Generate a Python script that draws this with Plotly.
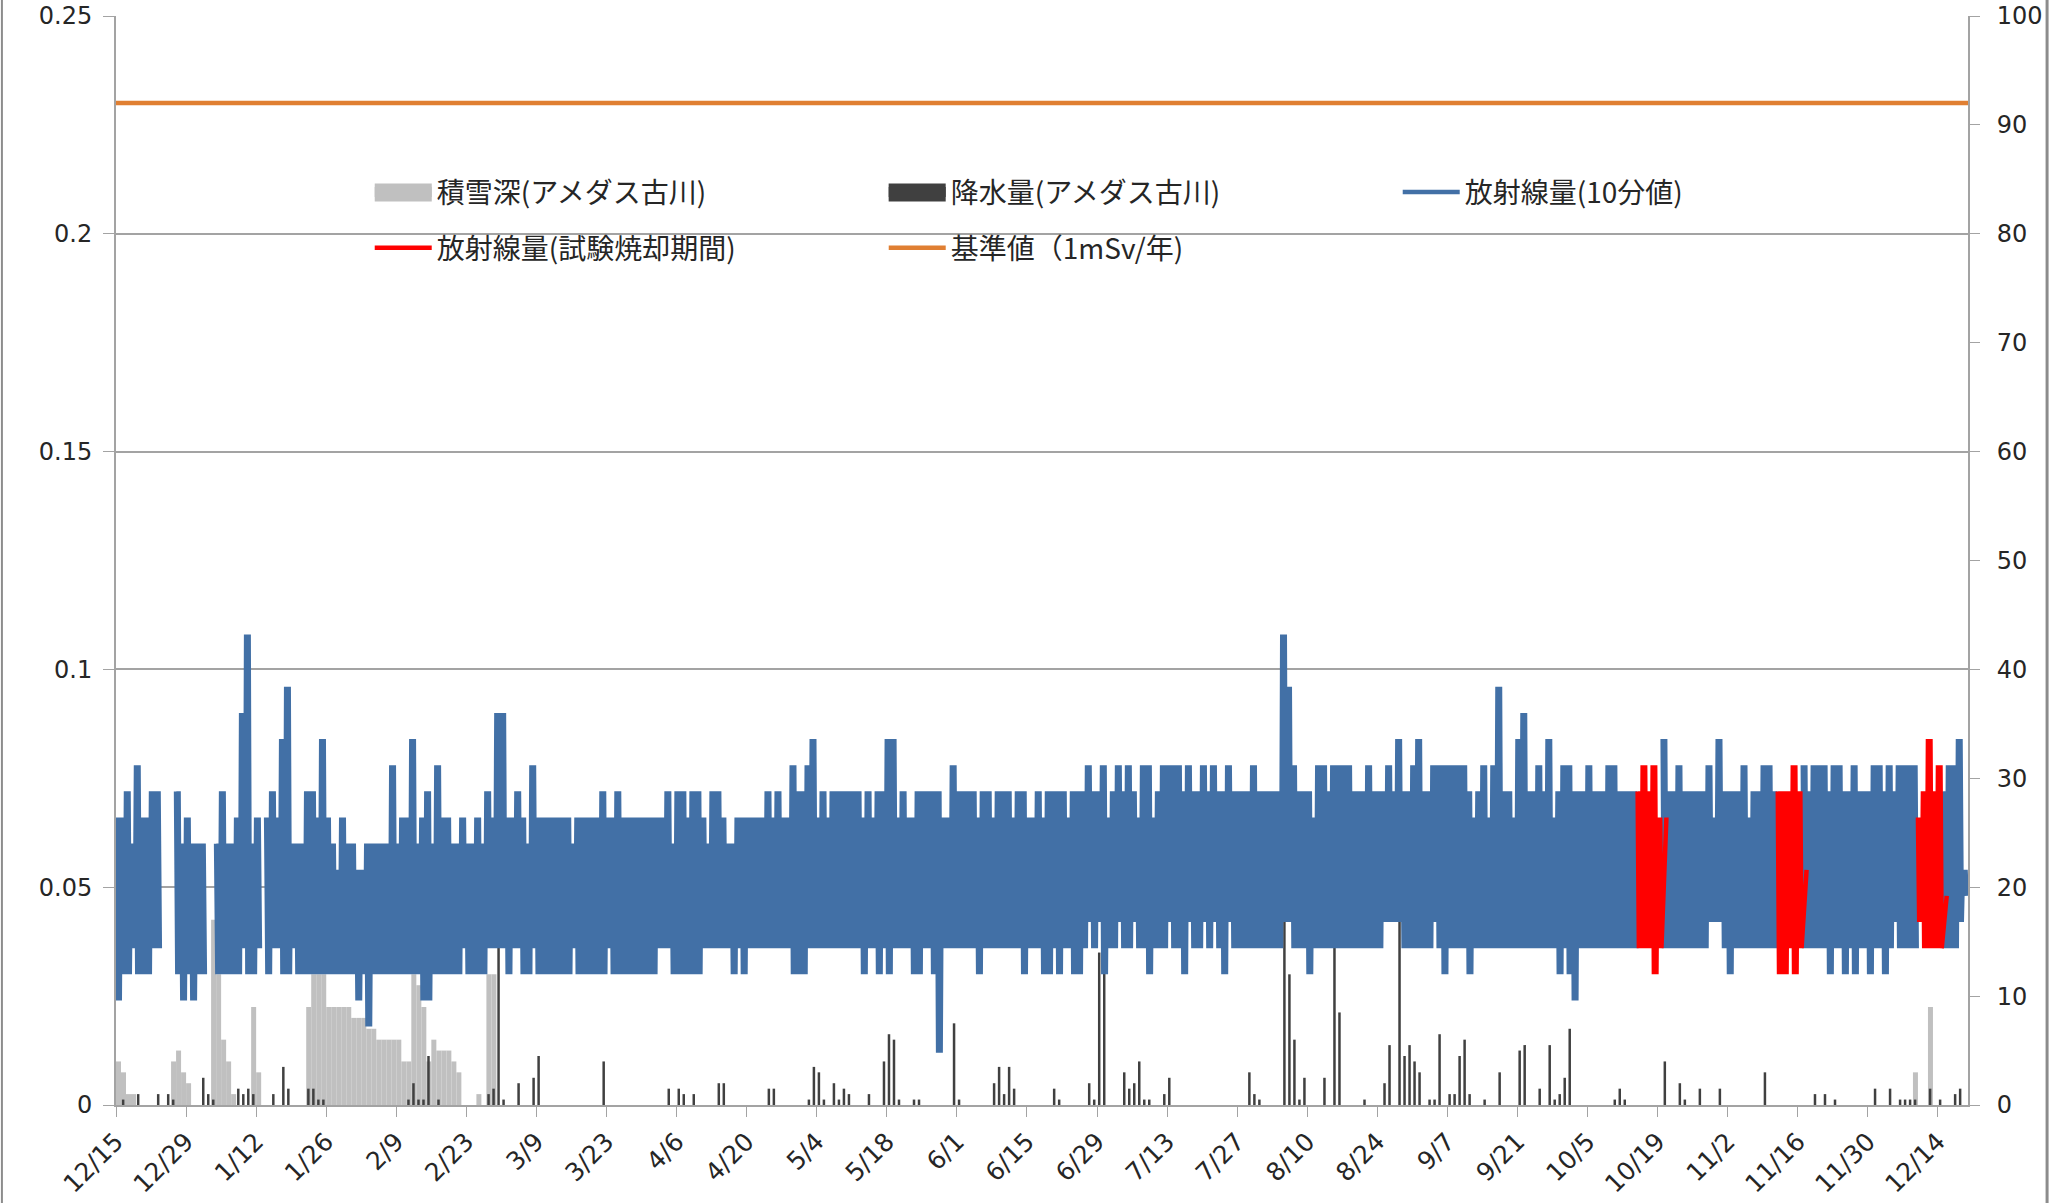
import pandas as pd
import plotly.graph_objects as go

# ---------------- data ----------------
first_day = "2016-12-15"
n_days = 370
days = pd.date_range(first_day, periods=n_days, freq="D")

# daily highest / lowest 10-minute dose rate (uSv/h); None = no data
rad_max = [
    0.066, 0.066, 0.072, 0.060, 0.078, 0.066, 0.066, 0.072, 0.072, None,
    None, None, 0.072, 0.060, 0.066, 0.060, 0.060, 0.060, None, None,
    0.060, 0.072, 0.060, 0.060, 0.066, 0.090, 0.108, 0.060, 0.066, None,
    0.066, 0.072, 0.066, 0.084, 0.096, 0.060, 0.060, 0.060, 0.072, 0.072,
    0.066, 0.084, 0.066, 0.060, 0.054, 0.066, 0.060, 0.060, 0.054, 0.054,
    0.060, 0.060, 0.060, 0.060, 0.060, 0.078, 0.060, 0.066, 0.066, 0.084,
    0.060, 0.066, 0.072, 0.060, 0.078, 0.066, 0.066, 0.060, 0.060, 0.066,
    0.060, 0.060, 0.066, 0.060, 0.072, 0.066, 0.090, 0.090, 0.066, 0.066,
    0.072, 0.066, 0.060, 0.078, 0.066, 0.066, 0.066, 0.066, 0.066, 0.066,
    0.066, 0.060, 0.066, 0.066, 0.066, 0.066, 0.066, 0.072, 0.066, 0.066,
    0.072, 0.066, 0.066, 0.066, 0.066, 0.066, 0.066, 0.066, 0.066, 0.066,
    0.072, 0.060, 0.072, 0.072, 0.066, 0.072, 0.072, 0.066, 0.060, 0.072,
    0.072, 0.066, 0.060, 0.060, 0.066, 0.066, 0.066, 0.066, 0.066, 0.066,
    0.072, 0.066, 0.072, 0.066, 0.066, 0.078, 0.072, 0.072, 0.078, 0.084,
    0.066, 0.072, 0.066, 0.072, 0.072, 0.072, 0.072, 0.072, 0.072, 0.066,
    0.072, 0.066, 0.072, 0.072, 0.084, 0.084, 0.066, 0.072, 0.066, 0.066,
    0.072, 0.072, 0.072, 0.072, 0.072, 0.066, 0.066, 0.078, 0.072, 0.072,
    0.072, 0.072, 0.066, 0.072, 0.072, 0.066, 0.072, 0.072, 0.072, 0.066,
    0.072, 0.072, 0.066, 0.066, 0.072, 0.066, 0.072, 0.072, 0.072, 0.072,
    0.066, 0.072, 0.072, 0.072, 0.078, 0.072, 0.072, 0.078, 0.066, 0.072,
    0.078, 0.072, 0.078, 0.072, 0.066, 0.078, 0.078, 0.066, 0.072, 0.078,
    0.078, 0.078, 0.078, 0.072, 0.078, 0.072, 0.072, 0.078, 0.072, 0.078,
    0.072, 0.072, 0.078, 0.072, 0.072, 0.072, 0.072, 0.078, 0.072, 0.072,
    0.072, 0.072, 0.072, 0.108, 0.096, 0.078, 0.072, 0.072, 0.072, 0.066,
    0.078, 0.078, 0.072, 0.078, 0.078, 0.078, 0.078, 0.072, 0.072, 0.072,
    0.078, 0.072, 0.072, 0.072, 0.078, 0.072, 0.084, 0.072, 0.072, 0.078,
    0.084, 0.072, 0.072, 0.078, 0.078, 0.078, 0.078, 0.078, 0.078, 0.078,
    0.072, 0.066, 0.072, 0.078, 0.066, 0.078, 0.096, 0.072, 0.072, 0.066,
    0.084, 0.090, 0.072, 0.072, 0.078, 0.072, 0.084, 0.066, 0.072, 0.078,
    0.078, 0.072, 0.072, 0.072, 0.078, 0.072, 0.072, 0.072, 0.078, 0.078,
    0.072, 0.072, 0.072, 0.072, 0.072, 0.078, 0.072, 0.078, 0.066, 0.084,
    0.072, 0.072, 0.078, 0.072, 0.072, 0.072, 0.072, 0.072, 0.078, 0.066,
    0.084, 0.072, 0.072, 0.072, 0.072, 0.078, 0.066, 0.072, 0.072, 0.078,
    0.078, 0.072, 0.072, 0.072, 0.072, 0.078, 0.072, 0.078, 0.072, 0.078,
    0.078, 0.078, 0.072, 0.078, 0.078, 0.072, 0.072, 0.078, 0.072, 0.072,
    0.072, 0.078, 0.078, 0.072, 0.078, 0.072, 0.078, 0.078, 0.078, 0.078,
    0.066, 0.072, 0.084, 0.072, 0.078, 0.072, 0.078, 0.078, 0.084, 0.054,
]
rad_min = [
    0.024, 0.030, 0.030, 0.036, 0.030, 0.030, 0.030, 0.036, 0.036, None,
    None, None, 0.030, 0.024, 0.030, 0.024, 0.030, 0.030, None, None,
    0.030, 0.030, 0.030, 0.030, 0.030, 0.036, 0.030, 0.030, 0.036, None,
    0.030, 0.036, 0.036, 0.030, 0.030, 0.036, 0.030, 0.030, 0.030, 0.030,
    0.030, 0.030, 0.030, 0.030, 0.030, 0.030, 0.030, 0.030, 0.024, 0.030,
    0.018, 0.030, 0.030, 0.030, 0.030, 0.030, 0.030, 0.030, 0.030, 0.030,
    0.030, 0.024, 0.024, 0.030, 0.030, 0.030, 0.030, 0.030, 0.030, 0.036,
    0.030, 0.030, 0.030, 0.030, 0.036, 0.036, 0.036, 0.036, 0.030, 0.036,
    0.036, 0.030, 0.030, 0.036, 0.030, 0.030, 0.030, 0.030, 0.030, 0.030,
    0.030, 0.036, 0.030, 0.030, 0.030, 0.030, 0.030, 0.030, 0.036, 0.030,
    0.030, 0.030, 0.030, 0.030, 0.030, 0.030, 0.030, 0.030, 0.036, 0.036,
    0.036, 0.030, 0.030, 0.030, 0.030, 0.030, 0.030, 0.036, 0.036, 0.036,
    0.036, 0.036, 0.036, 0.030, 0.036, 0.030, 0.036, 0.036, 0.036, 0.036,
    0.036, 0.036, 0.036, 0.036, 0.036, 0.030, 0.030, 0.030, 0.036, 0.036,
    0.036, 0.036, 0.036, 0.036, 0.036, 0.036, 0.036, 0.036, 0.036, 0.030,
    0.036, 0.036, 0.030, 0.036, 0.030, 0.036, 0.036, 0.036, 0.036, 0.030,
    0.030, 0.036, 0.036, 0.030, 0.012, 0.036, 0.036, 0.036, 0.036, 0.036,
    0.036, 0.036, 0.030, 0.036, 0.036, 0.036, 0.036, 0.036, 0.036, 0.036,
    0.036, 0.030, 0.036, 0.036, 0.036, 0.030, 0.030, 0.036, 0.030, 0.036,
    0.036, 0.030, 0.030, 0.036, 0.042, 0.036, 0.042, 0.030, 0.036, 0.036,
    0.042, 0.036, 0.036, 0.042, 0.036, 0.036, 0.030, 0.036, 0.036, 0.036,
    0.042, 0.036, 0.036, 0.030, 0.042, 0.036, 0.036, 0.042, 0.036, 0.042,
    0.036, 0.030, 0.042, 0.036, 0.036, 0.036, 0.036, 0.036, 0.036, 0.036,
    0.036, 0.036, 0.036, 0.042, 0.042, 0.036, 0.036, 0.036, 0.030, 0.036,
    0.036, 0.036, 0.036, 0.036, 0.036, 0.036, 0.036, 0.036, 0.036, 0.036,
    0.036, 0.036, 0.036, 0.042, 0.042, 0.042, 0.042, 0.036, 0.036, 0.036,
    0.036, 0.036, 0.036, 0.042, 0.036, 0.030, 0.036, 0.036, 0.036, 0.036,
    0.030, 0.036, 0.036, 0.036, 0.036, 0.036, 0.036, 0.036, 0.036, 0.036,
    0.036, 0.036, 0.036, 0.036, 0.036, 0.036, 0.036, 0.036, 0.030, 0.036,
    0.030, 0.024, 0.036, 0.036, 0.036, 0.036, 0.036, 0.036, 0.036, 0.036,
    0.036, 0.036, 0.036, 0.036, 0.036, 0.036, 0.036, 0.030, 0.036, 0.036,
    0.036, 0.036, 0.036, 0.036, 0.036, 0.036, 0.036, 0.036, 0.042, 0.042,
    0.042, 0.036, 0.030, 0.036, 0.036, 0.036, 0.036, 0.036, 0.036, 0.036,
    0.036, 0.036, 0.030, 0.030, 0.036, 0.030, 0.036, 0.036, 0.036, 0.036,
    0.036, 0.036, 0.030, 0.036, 0.036, 0.030, 0.036, 0.030, 0.036, 0.036,
    0.030, 0.036, 0.036, 0.030, 0.036, 0.042, 0.036, 0.036, 0.036, 0.036,
    0.042, 0.036, 0.036, 0.036, 0.036, 0.036, 0.036, 0.036, 0.042, 0.048,
]

# test incineration periods and the last reading recorded in each
burn_start = ["2017-10-15", "2017-11-12", "2017-12-10"]
burn_end = ["2017-10-19", "2017-11-16", "2017-12-14"]
burn_last = [0.066, 0.054, 0.048]

# precipitation, AMeDAS Furukawa (mm/day)
precip_dates = [
    "2016-12-16", "2016-12-19", "2016-12-23", "2016-12-25", "2016-12-26",
    "2017-01-01", "2017-01-02", "2017-01-03", "2017-01-08", "2017-01-09",
    "2017-01-10", "2017-01-11", "2017-01-15", "2017-01-17", "2017-01-18",
    "2017-01-22", "2017-01-23", "2017-01-24", "2017-01-25", "2017-02-11",
    "2017-02-12", "2017-02-13", "2017-02-14", "2017-02-15", "2017-02-17",
    "2017-02-27", "2017-02-28", "2017-03-01", "2017-03-02", "2017-03-05",
    "2017-03-08", "2017-03-09", "2017-03-22", "2017-04-04", "2017-04-06",
    "2017-04-07", "2017-04-09", "2017-04-14", "2017-04-15", "2017-04-24",
    "2017-04-25", "2017-05-02", "2017-05-03", "2017-05-04", "2017-05-05",
    "2017-05-07", "2017-05-08", "2017-05-09", "2017-05-10", "2017-05-14",
    "2017-05-17", "2017-05-18", "2017-05-19", "2017-05-20", "2017-05-23",
    "2017-05-24", "2017-05-31", "2017-06-01", "2017-06-08", "2017-06-09",
    "2017-06-10", "2017-06-11", "2017-06-12", "2017-06-20", "2017-06-21",
    "2017-06-27", "2017-06-28", "2017-06-29", "2017-06-30", "2017-07-04",
    "2017-07-05", "2017-07-06", "2017-07-07", "2017-07-08", "2017-07-09",
    "2017-07-12", "2017-07-13", "2017-07-29", "2017-07-30", "2017-07-31",
    "2017-08-05", "2017-08-06", "2017-08-07", "2017-08-08", "2017-08-09",
    "2017-08-13", "2017-08-15", "2017-08-16", "2017-08-21", "2017-08-25",
    "2017-08-26", "2017-08-28", "2017-08-29", "2017-08-30", "2017-08-31",
    "2017-09-01", "2017-09-03", "2017-09-04", "2017-09-05", "2017-09-07",
    "2017-09-08", "2017-09-09", "2017-09-10", "2017-09-11", "2017-09-14",
    "2017-09-17", "2017-09-21", "2017-09-22", "2017-09-25", "2017-09-27",
    "2017-09-28", "2017-09-29", "2017-09-30", "2017-10-01", "2017-10-10",
    "2017-10-11", "2017-10-12", "2017-10-20", "2017-10-23", "2017-10-24",
    "2017-10-27", "2017-10-31", "2017-11-09", "2017-11-19", "2017-11-21",
    "2017-11-23", "2017-12-01", "2017-12-04", "2017-12-06", "2017-12-07",
    "2017-12-08", "2017-12-09", "2017-12-12", "2017-12-14", "2017-12-17",
    "2017-12-18",
]
precip_mm = [
    0.5, 1, 1, 1, 0.5,
    2.5, 1, 0.5, 1.5, 1,
    1.5, 1, 1, 3.5, 1.5,
    1.5, 1.5, 0.5, 0.5, 0.5,
    2, 0.5, 0.5, 4.5, 0.5,
    1, 1.5, 20, 0.5, 2,
    2.5, 4.5, 4, 1.5, 1.5,
    1, 1, 2, 2, 1.5,
    1.5, 0.5, 3.5, 3, 0.5,
    2, 0.5, 1.5, 1, 1,
    4, 6.5, 6, 0.5, 0.5,
    0.5, 7.5, 0.5, 2, 3.5,
    1, 3.5, 1.5, 1.5, 0.5,
    2, 0.5, 14, 13, 3,
    1.5, 2, 4, 0.5, 0.5,
    1, 2.5, 3, 1, 0.5,
    25, 12, 6, 0.5, 2.5,
    2.5, 18, 8.5, 0.5, 2,
    5.5, 20, 4.5, 5.5, 4,
    3, 0.5, 0.5, 6.5, 1,
    1, 4.5, 6, 1, 0.5,
    3, 5, 5.5, 1.5, 5.5,
    0.5, 1, 2.5, 7, 0.5,
    1.5, 0.5, 4, 2, 0.5,
    1.5, 1.5, 3, 1, 1,
    0.5, 1.5, 1.5, 0.5, 0.5,
    0.5, 0.5, 1.5, 0.5, 1,
    1.5,
]

# snow depth, AMeDAS Furukawa (cm)
snow_dates = [
    "2016-12-15", "2016-12-16", "2016-12-17", "2016-12-18", "2016-12-26",
    "2016-12-27", "2016-12-28", "2016-12-29", "2017-01-03", "2017-01-04",
    "2017-01-05", "2017-01-06", "2017-01-07", "2017-01-11", "2017-01-12",
    "2017-01-22", "2017-01-23", "2017-01-24", "2017-01-25", "2017-01-26",
    "2017-01-27", "2017-01-28", "2017-01-29", "2017-01-30", "2017-01-31",
    "2017-02-01", "2017-02-02", "2017-02-03", "2017-02-04", "2017-02-05",
    "2017-02-06", "2017-02-07", "2017-02-08", "2017-02-09", "2017-02-10",
    "2017-02-11", "2017-02-12", "2017-02-13", "2017-02-14", "2017-02-15",
    "2017-02-16", "2017-02-17", "2017-02-18", "2017-02-19", "2017-02-20",
    "2017-02-21", "2017-02-25", "2017-02-27", "2017-02-28", "2017-12-09",
    "2017-12-12",
]
snow_cm = [
    4, 3, 1, 1, 4,
    5, 3, 2, 17, 12,
    6, 4, 1, 9, 3,
    9, 12, 12, 12, 9,
    9, 9, 9, 9, 8,
    8, 8, 7, 7, 6,
    6, 6, 6, 6, 4,
    4, 12, 11, 9, 4,
    6, 5, 5, 5, 4,
    3, 1, 12, 12, 3,
    9,
]

standard_value = 0.23          # 基準値 (1mSv/年) in uSv/h
x_start, x_end = "2016-12-15", "2017-12-20"

# ---------------- build the 10-minute style trace ----------------
six_h = pd.Timedelta(hours=6)
b_start = pd.to_datetime(burn_start)
b_end = pd.to_datetime(burn_end)


def burn_index(d):
    for i, (s, e) in enumerate(zip(b_start, b_end)):
        if s <= d <= e:
            return i
    return None


bx, by, rx, ry = [], [], [], []
prev = "none"
last_bi = 0
for d, hi, lo in zip(days, rad_max, rad_min):
    if hi is None:
        bx.append(d)
        by.append(None)
        continue
    bi = burn_index(d)
    red = bi is not None
    if prev == "red" and not red:
        rx.append(d + 3 * six_h)
        ry.append(burn_last[last_bi])
        rx.append(d)
        ry.append(None)
    if prev == "blue" and red:
        bx.append(d)
        by.append(None)
    tx, ty = (rx, ry) if red else (bx, by)
    for k, v in enumerate((hi, lo, hi, lo)):
        tx.append(d + k * six_h)
        ty.append(v)
    prev = "red" if red else "blue"
    if red:
        last_bi = bi

snow_color = "#c0c0c0"
rain_color = "#404040"

fig = go.Figure()

fig.add_trace(go.Bar(
    x=snow_dates, y=snow_cm, yaxis="y",
    width=86400000, offset=0,
    marker=dict(color=snow_color, line=dict(width=0)),
    name="積雪深(アメダス古川)", showlegend=False,
))
fig.add_trace(go.Bar(
    x=precip_dates, y=precip_mm, yaxis="y",
    width=86400000 * 0.5, offset=86400000 * 0.18,
    marker=dict(color=rain_color, line=dict(width=0)),
    name="降水量(アメダス古川)", showlegend=False,
))

# legend entries for the two bar series
fig.add_trace(go.Scatter(
    x=[None], y=[None], yaxis="y2", mode="lines",
    line=dict(color=snow_color, width=10),
    name="積雪深(アメダス古川)", legend="legend",
))
fig.add_trace(go.Scatter(
    x=[None], y=[None], yaxis="y2", mode="lines",
    line=dict(color=rain_color, width=10),
    name="降水量(アメダス古川)", legend="legend",
))

fig.add_trace(go.Scatter(
    x=bx, y=by, yaxis="y2", mode="lines",
    line=dict(color="#4270a6", width=4.5),
    name="放射線量(10分値)", legend="legend", connectgaps=False,
))
fig.add_trace(go.Scatter(
    x=rx, y=ry, yaxis="y2", mode="lines",
    line=dict(color="#ff0000", width=4.5),
    name="放射線量(試験焼却期間)", legend="legend2", connectgaps=False,
))
fig.add_trace(go.Scatter(
    x=[x_start, x_end], y=[standard_value, standard_value], yaxis="y2",
    mode="lines", line=dict(color="#e07f32", width=4.5),
    name="基準値（1mSv/年)", legend="legend2",
))

grid_c = "#a3a3a3"
tick_font = dict(family="DejaVu Sans", size=24, color="#262626")
legend_font = dict(family="Noto Sans CJK JP", size=28, color="#262626")

# rectangular swatches for the column series (legend key boxes)
swatch_boxes = [
    dict(type="rect", xref="paper", yref="paper",
         x0=0.1397, x1=0.1705, y0=0.8297, y1=0.8463,
         fillcolor=snow_color, line=dict(width=0), layer="above"),
    dict(type="rect", xref="paper", yref="paper",
         x0=0.4172, x1=0.4480, y0=0.8297, y1=0.8463,
         fillcolor=rain_color, line=dict(width=0), layer="above"),
]

fig.update_layout(
    width=2061, height=1203,
    margin=dict(l=116, r=93, t=16, b=98, autoexpand=False),
    paper_bgcolor="white", plot_bgcolor="white",
    barmode="overlay",
    font=tick_font,
    xaxis=dict(
        type="date", range=[x_start, x_end],
        tick0="2016-12-15", dtick=14 * 86400000, tickformat="%-m/%-d",
        tickangle=-45, ticks="outside", ticklen=10, tickcolor=grid_c,
        showline=True, linecolor=grid_c, linewidth=2, showgrid=False,
        tickfont=dict(family="DejaVu Sans", size=25, color="#262626"),
        automargin=False,
    ),
    yaxis=dict(
        range=[0, 100], dtick=10, side="right",
        ticks="outside", ticklen=10, tickcolor=grid_c,
        showline=True, linecolor=grid_c, linewidth=2,
        showgrid=False, zeroline=False, ticklabelstandoff=12,
        automargin=False,
    ),
    yaxis2=dict(
        range=[0, 0.25], dtick=0.05, side="left", overlaying="y",
        ticks="outside", ticklen=11, tickcolor=grid_c,
        showline=True, linecolor=grid_c, linewidth=2,
        showgrid=True, gridcolor=grid_c, gridwidth=1.5, zeroline=False,
        ticklabelstandoff=6, automargin=False,
    ),
    legend=dict(
        x=0.137, y=0.838, xanchor="left", yanchor="middle",
        orientation="h", entrywidth=442, entrywidthmode="pixels",
        itemwidth=57, font=legend_font, bgcolor="rgba(0,0,0,0)",
        traceorder="normal",
    ),
    legend2=dict(
        x=0.137, y=0.787, xanchor="left", yanchor="middle",
        orientation="h", entrywidth=442, entrywidthmode="pixels",
        itemwidth=57, font=legend_font, bgcolor="rgba(0,0,0,0)",
        traceorder="normal",
    ),
    shapes=[
        dict(type="rect", xref="paper", yref="y2", x0=0.1004, x1=0.9368,
             y0=0.19, y1=0.22, fillcolor="white", line=dict(width=0),
             layer="between"),
        dict(type="line", xref="paper", yref="paper", x0=-0.0616, x1=-0.0616,
             y0=-0.2, y1=1.1, line=dict(color="#8c8c8c", width=2)),
        dict(type="line", xref="paper", yref="paper", x0=1.0427, x1=1.0427,
             y0=-0.2, y1=1.1, line=dict(color="#8c8c8c", width=3)),
    ] + swatch_boxes,
)

fig.write_html(
    "out.html",
    config={"displayModeBar": False},
    post_script="document.body.style.margin='0';document.body.style.overflow='hidden';",
)
